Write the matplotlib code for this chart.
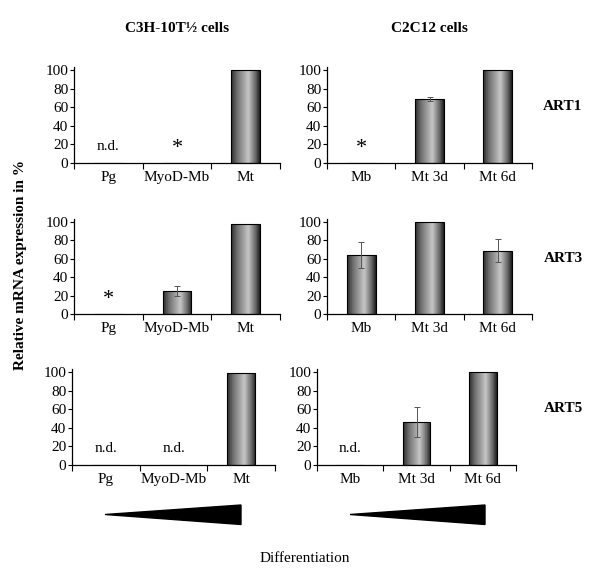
import matplotlib.pyplot as plt
import numpy as np
from matplotlib.colors import LinearSegmentedColormap
from matplotlib.patches import Polygon

plt.rcParams['font.family'] = ['Liberation Serif', 'DejaVu Serif']
plt.rcParams['font.size'] = 11

# ---- Data (relative mRNA expression in %) ----
C3H_LABELS = ["Pg", "MyoD-Mb", "Mt"]
C2C12_LABELS = ["Mb", "Mt 3d", "Mt 6d"]
GENES = ["ART1", "ART3", "ART5"]

ART1_C3H = [0, 0, 100]
ART1_C3H_ERR = [0, 0, 0]
ART1_C3H_NOTE = ["n.d.", "*", ""]
ART1_C2C12 = [0.5, 69, 100]
ART1_C2C12_ERR = [0, 2, 0]
ART1_C2C12_NOTE = ["*", "", ""]

ART3_C3H = [0, 25, 98]
ART3_C3H_ERR = [0, 5, 0]
ART3_C3H_NOTE = ["*", "", ""]
ART3_C2C12 = [64, 100, 69]
ART3_C2C12_ERR = [14.5, 0, 12.5]
ART3_C2C12_NOTE = ["", "", ""]

ART5_C3H = [0, 0, 99]
ART5_C3H_ERR = [0, 0, 0]
ART5_C3H_NOTE = ["n.d.", "n.d.", ""]
ART5_C2C12 = [0, 46, 100]
ART5_C2C12_ERR = [0, 16, 0]
ART5_C2C12_NOTE = ["n.d.", "", ""]

YTICKS = [0, 20, 40, 60, 80, 100]

W, H = 600, 580
fig = plt.figure(figsize=(W / 100, H / 100), dpi=100)

# cylinder-like shading of the bars
bar_cmap = LinearSegmentedColormap.from_list(
    "cyl", [(0, "#2c2c2c"), (0.2, "#6e6e6e"), (0.6, "#c6c6c6"), (0.85, "#6a6a6a"), (1, "#1e1e1e")]
)
grad = np.linspace(0, 1, 64).reshape(1, -1)


def px_axes(x0, x1, y100, y0):
    # axes box from pixel positions of the 0 and 100 gridlines
    top = y0 - (y0 - y100) * 1.03
    return fig.add_axes([x0 / W, (H - y0) / H, (x1 - x0) / W, (y0 - top) / H])


def panel(ax, labels, values, errs, notes):
    x = np.arange(len(labels))
    width = 0.42
    bars = ax.bar(x, values, width=width, facecolor="none", edgecolor="black",
                  linewidth=0.8, zorder=3)
    for b, v in zip(bars, values):
        if v <= 0:
            continue
        img = ax.imshow(grad, extent=[b.get_x(), b.get_x() + width, 0, v],
                        aspect="auto", cmap=bar_cmap, zorder=2)
        img.set_clip_path(b)
    for xi, v, e in zip(x, values, errs):
        if e > 0:
            ax.errorbar(xi, v, yerr=e, fmt="none", ecolor="#555555",
                        elinewidth=0.7, capsize=2, capthick=0.7, zorder=4)
    for xi, n in zip(x, notes):
        if n == "*":
            ax.text(xi, 16, "*", ha="center", va="center", fontsize=16)
        elif n:
            ax.text(xi, 18, n, ha="center", va="center")

    ax.set_xlim(-0.5, len(labels) - 0.5)
    ax.set_ylim(0, 103)
    ax.set_yticks(YTICKS)
    ax.set_xticks(np.arange(len(labels) + 1) - 0.5)
    ax.set_xticklabels([])
    ax.set_xticks(x, minor=True)
    ax.set_xticklabels(labels, minor=True)
    ax.tick_params(axis="x", which="major", length=4, width=0.8, direction="out")
    ax.tick_params(axis="x", which="minor", length=0, pad=6)
    ax.tick_params(axis="y", length=3, width=0.8, pad=1)
    for s in ["top", "right"]:
        ax.spines[s].set_visible(False)
    for s in ["left", "bottom"]:
        ax.spines[s].set_linewidth(0.9)


rows = [
    (ART1_C3H, ART1_C3H_ERR, ART1_C3H_NOTE, ART1_C2C12, ART1_C2C12_ERR, ART1_C2C12_NOTE),
    (ART3_C3H, ART3_C3H_ERR, ART3_C3H_NOTE, ART3_C2C12, ART3_C2C12_ERR, ART3_C2C12_NOTE),
    (ART5_C3H, ART5_C3H_ERR, ART5_C3H_NOTE, ART5_C2C12, ART5_C2C12_ERR, ART5_C2C12_NOTE),
]
row_y = [(70, 163), (222, 314), (372, 465)]
left_x = [(74, 280), (74, 280), (72, 275)]
right_x = [(327, 532), (327, 532), (317, 516)]

for gene, data, (y100, y0), lx, rx in zip(GENES, rows, row_y, left_x, right_x):
    axl = px_axes(lx[0], lx[1], y100, y0)
    panel(axl, C3H_LABELS, data[0], data[1], data[2])
    axr = px_axes(rx[0], rx[1], y100, y0)
    panel(axr, C2C12_LABELS, data[3], data[4], data[5])
    fig.text(563 / W, 1 - (y100 + 36) / H, gene, ha="center", va="center", fontweight="bold")

fig.text(177 / W, 1 - 29 / H, "C3H-10T½ cells", ha="center", va="center", fontweight="bold")
fig.text(429 / W, 1 - 29 / H, "C2C12 cells", ha="center", va="center", fontweight="bold")
fig.text(21 / W, 1 - 265 / H, "Relative mRNA expression in %", ha="center", va="center",
         rotation=90, fontweight="bold")
fig.text(305 / W, 1 - 558 / H, "Differentiation", ha="center", va="center")

# differentiation wedges
for tip, base in [(105, 241), (350, 485)]:
    pts = [(tip / W, 1 - 514.5 / H), (base / W, 1 - 505 / H), (base / W, 1 - 524.5 / H)]
    fig.add_artist(Polygon(pts, closed=True, facecolor="black", edgecolor="black",
                           transform=fig.transFigure))

fig.savefig("out.png", dpi=100)
